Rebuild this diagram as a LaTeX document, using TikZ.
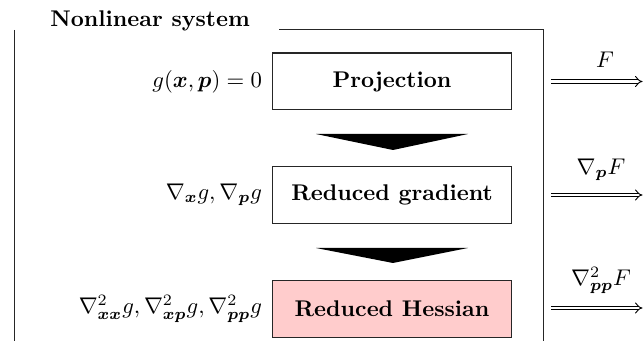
\documentclass[tikz,border=0pt]{standalone}
\usepackage{amsmath,bm}
\usetikzlibrary{arrows.meta}
\begin{document}
\begin{tikzpicture}[x=0.4405pt,y=-0.4405pt,
  stage/.style={draw=black!85, line width=0.45pt, minimum width=105.7pt, minimum height=25.1pt, inner sep=0pt, font=\bfseries},
  inlabel/.style={anchor=east, inner sep=0pt},
  outarrow/.style={double, line width=0.4pt, double distance=1.3pt, -{Implies}},
  frameline/.style={line width=0.4pt, draw=black!85},
  blockarrow/.style={fill=black}]
\useasboundingbox (0,0) rectangle (643,341);
% frame
\draw[frameline] (14,30) -- (14,350);
\draw[frameline] (279,29) -- (543,29) -- (543,350);
\node[anchor=base west, inner sep=0pt, font=\bfseries] (title) at (50,26.5) {Nonlinear system};
% stages
\node[stage] (b1) at (392,81.5) {Projection};
\node[stage] (b2) at (392,195) {Reduced gradient};
\node[stage, fill=red!20] (b3) at (392,309) {Reduced Hessian};
% inputs
\node[inlabel, left=4pt] (l1) at (b1.west) {$g(\bm{x},\bm{p})=0$};
\node[inlabel, left=4pt] (l2) at (b2.west) {$\nabla_{\bm{x}} g, \nabla_{\bm{p}} g$};
\node[inlabel, left=4pt] (l3) at (b3.west) {$\nabla^2_{\bm{xx}} g, \nabla^2_{\bm{xp}} g, \nabla^2_{\bm{pp}} g$};
% block arrows between stages
\fill[blockarrow] (316,134) -- (468,134) -- (393,150) -- cycle;
\fill[blockarrow] (316,248) -- (468,248) -- (393,263) -- cycle;
% outputs
\coordinate (s1) at (551,81.5);  \coordinate (e1) at (642.5,81.5);
\coordinate (s2) at (551,195);   \coordinate (e2) at (642.5,195);
\coordinate (s3) at (551,308);   \coordinate (e3) at (642.5,308);
\draw[outarrow] (s1) -- (e1);
\draw[outarrow] (s2) -- (e2);
\draw[outarrow] (s3) -- (e3);
\node[anchor=south] (f1) at (605,76) {$F$};
\node[anchor=south] (f2) at (601,189) {$\nabla_{\bm{p}} F$};
\node[anchor=south] (f3) at (601,302) {$\nabla^2_{\bm{pp}} F$};
\end{tikzpicture}
\end{document}
